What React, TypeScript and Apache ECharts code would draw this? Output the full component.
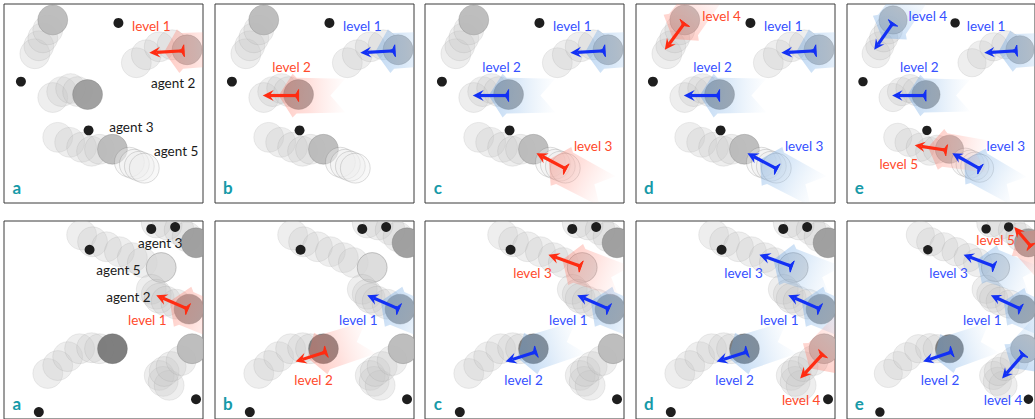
import { useEffect, useRef } from 'react';
import * as echarts from 'echarts';

const panelLetters = ['a', 'b', 'c', 'd', 'e'];
const levelNames = ['level 1', 'level 2', 'level 3', 'level 4', 'level 5'];

// circles: [x, y, kind]  kind 0 = trail, 1 = faint outline, 2..5 = current position shades
const topCircles = [
  [31, 50, 0], [35, 42, 0], [39, 34, 0], [44, 26, 0], [49, 16, 3],
  [133, 59, 0], [143, 51, 0], [156, 43, 0], [169, 41, 0], [184, 46, 3],
  [49, 94, 0], [58, 88, 0], [67, 85, 0], [74, 88, 0], [84, 91, 4],
  [54, 134, 0], [66, 139, 0], [78, 144, 0], [88, 148, 0], [96, 146, 0], [109, 146, 3],
  [126, 159, 6], [131, 161, 6], [136, 163, 6], [141, 165, 6],
];
const topObstacles = [[115, 19], [17, 78], [85, 127]];
// arrows per level: [tailX, tailY, headX, headY]
const topArrows = [
  [181, 47, 146, 49],
  [84, 92, 48, 92],
  [142, 166, 112, 150],
  [49, 19, 29, 46],
  [106, 147, 72, 142],
];
const topLevelLabelPos = [[148, 22], [77, 63], [169, 143], [86, 12], [55, 161]];
const topAgentNames = ['agent 2', 'agent 3', 'agent 5'];
const topAgentLabelPos = [[170, 79], [128, 124], [173, 148]];

const bottomCircles = [
  [153, 2, 0], [164, 4, 0], [176, 9, 0], [184, 16, 0], [193, 22, 4],
  [78, 14, 0], [89, 21, 0], [103, 26, 0], [116, 31, 0], [129, 37, 0], [139, 42, 0], [158, 47, 1],
  [148, 69, 0], [153, 74, 0], [156, 78, 0], [163, 81, 0], [173, 84, 0], [186, 89, 4],
  [44, 154, 0], [54, 146, 0], [64, 137, 0], [76, 129, 0], [88, 128, 0], [96, 129, 0], [109, 129, 5],
  [156, 156, 0], [160, 162, 0], [166, 166, 0], [161, 152, 0], [168, 147, 0], [178, 141, 0], [189, 129, 3],
];
const bottomObstacles = [[148, 8], [172, 6], [86, 29], [193, 180], [35, 193]];
const bottomArrows = [
  [185, 89, 153, 75],
  [112, 132, 81, 142],
  [157, 46, 124, 34],
  [188, 134, 165, 159],
  [196, 26, 178, 6],
];
const bottomLevelLabelPos = [[144, 100], [99, 161], [108, 53], [166, 181], [158, 19]];
const bottomAgentNames = ['agent 3', 'agent 5', 'agent 2'];
const bottomAgentLabelPos = [[157, 22], [115, 49], [125, 77]];

const letterPos = [13, 184];

const RED = '#ff2c12';
const BLUE = '#1230f5';
const RED_TEXT = '#ff4a2c';
const BLUE_TEXT = '#3550ff';
const TEAL = '#179aa8';

const circleStyles: any[] = [
  { fill: 'rgba(200,200,200,0.3)', stroke: 'rgba(150,150,150,0.22)', lineWidth: 0.8 },
  { fill: 'rgba(212,212,212,0.8)', stroke: 'rgba(110,110,110,0.45)', lineWidth: 0.8 },
  { fill: 'rgba(200,200,200,0.9)', stroke: 'rgba(120,120,120,0.4)', lineWidth: 0.8 },
  { fill: 'rgba(185,185,185,0.92)', stroke: 'rgba(120,120,120,0.4)', lineWidth: 0.8 },
  { fill: 'rgba(155,155,155,0.94)', stroke: 'rgba(110,110,110,0.4)', lineWidth: 0.8 },
  { fill: 'rgba(122,122,122,0.96)', stroke: 'rgba(90,90,90,0.4)', lineWidth: 0.8 },
  { fill: 'rgba(238,238,238,0.4)', stroke: 'rgba(90,90,90,0.25)', lineWidth: 0.8 },
];

const rows = [
  { top: 4, circles: topCircles, obstacles: topObstacles, arrows: topArrows, levelPos: topLevelLabelPos, agentNames: topAgentNames, agentPos: topAgentLabelPos },
  { top: 221, circles: bottomCircles, obstacles: bottomObstacles, arrows: bottomArrows, levelPos: bottomLevelLabelPos, agentNames: bottomAgentNames, agentPos: bottomAgentLabelPos },
];
const colLefts = [4, 215, 425, 636, 847];

function geom(api: any) {
  const t = api.coord([api.value(0), api.value(1)]);
  const h = api.coord([api.value(2), api.value(3)]);
  const dx = h[0] - t[0];
  const dy = h[1] - t[1];
  const len = Math.sqrt(dx * dx + dy * dy) || 1;
  const d = [dx / len, dy / len];
  const n = [-d[1], d[0]];
  const s = api.size([1, 1])[0];
  const P = (a: number, b: number) => [t[0] + d[0] * a * s + n[0] * b * s, t[1] + d[1] * a * s + n[1] * b * s];
  return { t, h, d, n, s, P };
}

function circleItem(params: any, api: any) {
  const c = api.coord([api.value(0), api.value(1)]);
  const r = api.size([15, 15])[0];
  return { type: 'circle', shape: { cx: c[0], cy: c[1], r }, style: circleStyles[api.value(2)] };
}

function obstacleItem(params: any, api: any) {
  const c = api.coord([api.value(0), api.value(1)]);
  const r = api.size([5, 5])[0];
  return { type: 'circle', shape: { cx: c[0], cy: c[1], r }, style: { fill: '#1e1e1e' } };
}

function chevronItem(params: any, api: any) {
  const { P } = geom(api);
  const red = api.value(4) === 1;
  const tip = P(20, 0);
  const back = P(-47, 0);
  const pts = [tip, P(6, 22), P(2, 18), P(-47, 17), P(-32, 0), P(-47, -17), P(2, -18), P(6, -22)];
  const stops = red
    ? [
        { offset: 0, color: 'rgba(255,110,90,0.36)' },
        { offset: 0.45, color: 'rgba(255,135,120,0.26)' },
        { offset: 1, color: 'rgba(255,170,160,0.02)' },
      ]
    : [
        { offset: 0, color: 'rgba(100,160,225,0.4)' },
        { offset: 0.45, color: 'rgba(130,180,232,0.28)' },
        { offset: 1, color: 'rgba(170,205,240,0.02)' },
      ];
  return {
    type: 'polygon',
    shape: { points: pts },
    style: { fill: new echarts.graphic.LinearGradient(tip[0], tip[1], back[0], back[1], stops, true) },
  };
}

function arrowItem(params: any, api: any) {
  const { t, h, d, n, s } = geom(api);
  const color = api.value(4) === 1 ? RED : BLUE;
  const Q = (a: number, b: number) => [h[0] + d[0] * a * s + n[0] * b * s, h[1] + d[1] * a * s + n[1] * b * s];
  const T = (a: number, b: number) => [t[0] + d[0] * a * s + n[0] * b * s, t[1] + d[1] * a * s + n[1] * b * s];
  const shaftEnd = Q(-7, 0);
  return {
    type: 'group',
    children: [
      { type: 'line', shape: { x1: t[0], y1: t[1], x2: shaftEnd[0], y2: shaftEnd[1] }, style: { stroke: color, lineWidth: 3.2 } },
      { type: 'polygon', shape: { points: [h, Q(-11, 5.5), Q(-7, 0), Q(-11, -5.5)] }, style: { fill: color } },
      { type: 'polygon', shape: { points: [T(0, 6), T(2.5, 1.4), T(7, 0), T(2.5, -1.4), T(0, -6)] }, style: { fill: color, stroke: color, lineWidth: 1 } },
    ],
  };
}

function makeLabelItem(items: any[]) {
  return (params: any, api: any) => {
    const it = items[params.dataIndex];
    const p = api.coord([it.x, it.y]);
    return {
      type: 'text',
      x: p[0],
      y: p[1],
      style: {
        text: it.text,
        fill: it.color,
        font: it.font,
        align: 'center',
        verticalAlign: 'middle',
        textAlign: 'center',
        textVerticalAlign: 'middle',
      },
    };
  };
}

function buildOption() {
  const grid: any[] = [];
  const xAxis: any[] = [];
  const yAxis: any[] = [];
  const series: any[] = [];
  rows.forEach((row, r) => {
    colLefts.forEach((left, c) => {
      const p = r * 5 + c;
      grid.push({ left, top: row.top, width: 199, height: 199, show: true, backgroundColor: '#fff', borderColor: '#3a3a3a', borderWidth: 1 });
      xAxis.push({ gridIndex: p, type: 'value', min: 0, max: 200, show: false });
      yAxis.push({ gridIndex: p, type: 'value', min: 0, max: 200, inverse: true, show: false });
      const base = { type: 'custom', xAxisIndex: p, yAxisIndex: p, clip: true, silent: true, animation: false };
      const levels = row.arrows.slice(0, c + 1).map((a, i) => [...a, i === c ? 1 : 0]);
      series.push({ ...base, z: 2, data: row.circles, renderItem: circleItem });
      series.push({ ...base, z: 3, data: levels, renderItem: chevronItem });
      series.push({ ...base, z: 4, data: row.obstacles, renderItem: obstacleItem });
      series.push({ ...base, z: 5, data: levels, renderItem: arrowItem });
      const items: any[] = [];
      for (let l = 0; l <= c; l++) {
        items.push({ x: row.levelPos[l][0], y: row.levelPos[l][1], text: levelNames[l], color: l === c ? RED_TEXT : BLUE_TEXT, font: '13.5px Lato' });
      }
      if (c === 0) {
        row.agentNames.forEach((name, i) => {
          items.push({ x: row.agentPos[i][0], y: row.agentPos[i][1], text: name, color: '#1a1a1a', font: '13.5px Lato' });
        });
      }
      items.push({ x: letterPos[0], y: letterPos[1], text: panelLetters[c], color: TEAL, font: 'bold 17px Lato' });
      series.push({ ...base, z: 6, data: items.map((it) => [it.x, it.y]), renderItem: makeLabelItem(items) });
    });
  });
  return { animation: false, backgroundColor: '#fff', grid, xAxis, yAxis, series };
}

export default function App() {
  const ref = useRef<HTMLDivElement>(null);
  useEffect(() => {
    const chart = echarts.init(ref.current!, null, { renderer: 'svg' });
    chart.setOption(buildOption() as any);
    return () => chart.dispose();
  }, []);
  return <div ref={ref} style={{ position: 'fixed', left: 0, top: 0, width: 1035, height: 419, background: '#fff' }} />;
}
